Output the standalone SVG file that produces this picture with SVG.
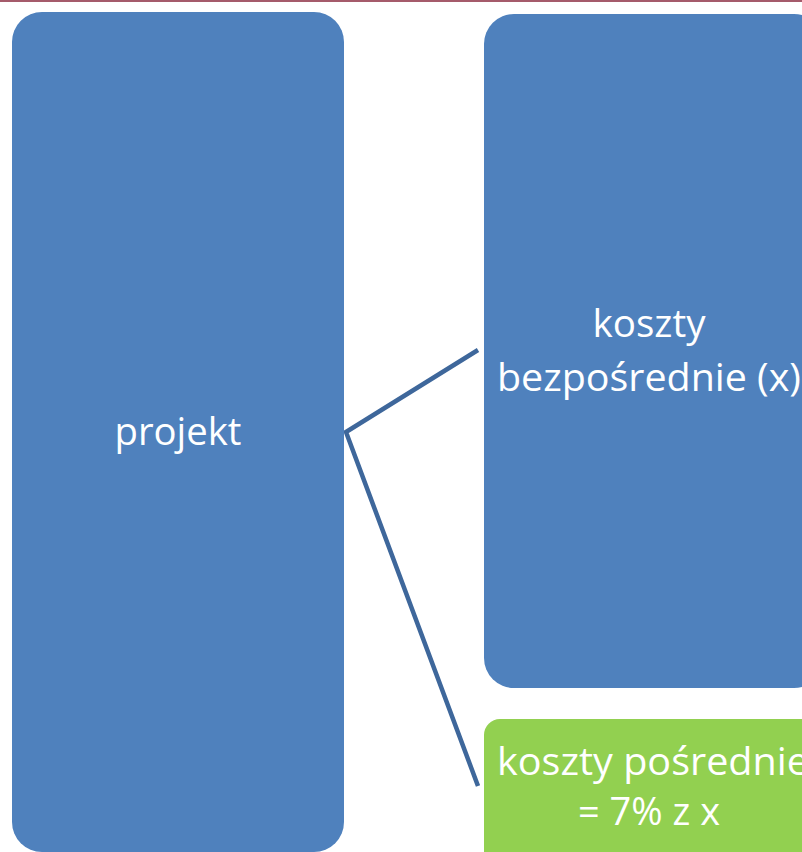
<svg xmlns="http://www.w3.org/2000/svg" width="802" height="852" viewBox="0 0 802 852">
<style>
.blue{fill:#4F81BD}
.green{fill:#92D050}
.t{fill:#ffffff;font-family:"Open Sans","Noto Sans",sans-serif;font-size:39px;text-anchor:middle}
.conn{fill:none;stroke:#3E679B;stroke-width:4.5}
</style>
<rect x="0" y="0" width="802" height="852" fill="#ffffff"/>
<line x1="0" y1="1" x2="802" y2="1" stroke="#A55B6B" stroke-width="2"/>
<g id="connectors">
<polyline class="conn" points="478,350 346,432 478,786"/>
</g>
<g id="projekt">
<rect class="blue" x="12" y="12" width="332" height="840" rx="30"/>
<text class="t" x="178" y="445" textLength="127" lengthAdjust="spacingAndGlyphs">projekt</text>
</g>
<g id="koszty-bezposrednie">
<rect class="blue" x="484" y="14" width="340" height="674" rx="30"/>
<text class="t" x="649" y="337" textLength="113" lengthAdjust="spacingAndGlyphs">koszty</text>
<text class="t" x="649" y="391" textLength="304" lengthAdjust="spacingAndGlyphs">bezpośrednie (x)</text>
</g>
<g id="koszty-posrednie">
<rect class="green" x="484" y="719" width="340" height="150" rx="16"/>
<text class="t" x="653" y="775" textLength="312" lengthAdjust="spacingAndGlyphs">koszty pośrednie</text>
<text class="t" x="649" y="825" textLength="142" lengthAdjust="spacingAndGlyphs">= 7% z x</text>
</g>
</svg>
